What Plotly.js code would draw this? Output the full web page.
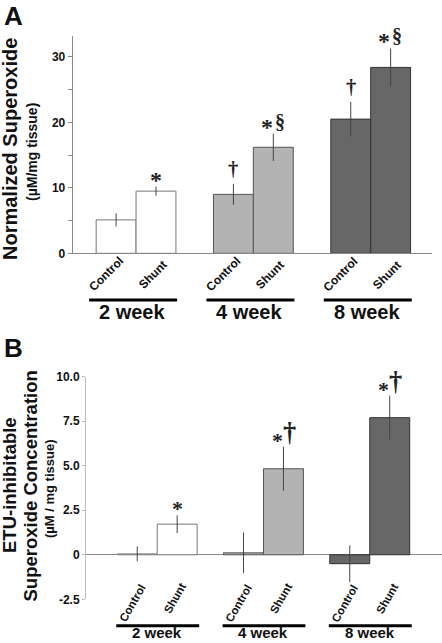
<!DOCTYPE html>
<html>
<head>
<meta charset="utf-8">
<script src="https://cdn.plot.ly/plotly-3.0.1.min.js"></script>
<style>html,body{margin:0;padding:0;background:#fff;}#chart{width:442px;height:643px;}</style>
</head>
<body>
<div id="chart"></div>
<script>
// ---- data ----
const groups = ['2 week', '4 week', '8 week'];
const subgroups = ['Control', 'Shunt'];

const aControl = [5.1, 9.0, 20.5];
const aControlErr = [1.0, 1.6, 2.65];
const aShunt = [9.5, 16.2, 28.4];
const aShuntErr = [0.7, 2.1, 2.9];
const aControlSig = ['', '†', '†'];
const aShuntSig = ['*', '*§', '*§'];
const aTickVals = [0, 10, 20, 30];
const aMinorTickVals = [5, 15, 25];

const bControl = [0.05, 0.11, -0.5];
const bControlErr = [0.42, 1.14, 1.03];
const bShunt = [1.72, 4.83, 7.7];
const bShuntErr = [0.5, 1.24, 1.24];
const bControlSig = ['', '', ''];
const bShuntSig = ['*', '*†', '*†'];
const bTickVals = [-2.5, 0, 2.5, 5, 7.5, 10];
const bTickText = ['-2.5', '0', '2.5', '5.0', '7.5', '10.0'];

// ---- styling ----
const W = 442, H = 643;
const px = x => x / W;
const py = y => 1 - y / H;
const SANS = 'Liberation Sans, Arial, sans-serif';
const SERIF = 'Liberation Serif, Times New Roman, serif';
const INK = '#111';
const fillColors = ['#ffffff', '#b3b3b3', '#676767'];
const edgeColors = ['#777777', '#555555', '#333333'];
const idx = groups.map((g, i) => i);

const panels = [
  {xa: 'x', ya: 'y', w: 0.34, ctl: aControl, ctlErr: aControlErr, sh: aShunt, shErr: aShuntErr,
   ctlSig: aControlSig, shSig: aShuntSig,
   labAngle: -45, labSize: 12, labShift: [[-10, -20.7], [-3.5, -21.7]],
   grpSize: 20, grpY: 312, grpAnchor: 'middle', grpShift: -4, lineY: 300, lineL: 0.40, lineR: 0.35,
   sym: {'*': {size: 24, dy: -8}, '†': {size: 20.5, dy: 2}, '§': {size: 20, dy: -1}}, symGap: 12.5},
  {xa: 'x2', ya: 'y2', w: 0.376, ctl: bControl, ctlErr: bControlErr, sh: bShunt, shErr: bShuntErr,
   ctlSig: bControlSig, shSig: bShuntSig,
   labAngle: -60, labSize: 11.5, labShift: [[-4.8, -48.2], [-2, -43.7]],
   grpSize: 15, grpY: 643, grpAnchor: 'bottom', grpShift: 0, lineY: 625.7, lineL: 0.385, lineR: 0.395,
   sym: {'*': {size: 22, dy: -8}, '†': {size: 26.5, dy: -2}, '§': {size: 22, dy: -1}}, symGap: 12.5}
];

const traces = [];
const annotations = [];
const shapes = [];

panels.forEach(p => {
  const series = [
    {name: subgroups[0], y: p.ctl, e: p.ctlErr, sig: p.ctlSig, off: -p.w},
    {name: subgroups[1], y: p.sh, e: p.shErr, sig: p.shSig, off: 0}
  ];
  series.forEach((s, si) => {
    traces.push({
      type: 'bar', name: s.name, x: idx, y: s.y, xaxis: p.xa, yaxis: p.ya,
      width: p.w, offset: s.off,
      marker: {color: fillColors, line: {color: edgeColors, width: 1}},
      error_y: {type: 'data', array: s.e, visible: true, width: 0, thickness: 1, color: '#444'},
      hoverinfo: 'skip', showlegend: false
    });
    idx.forEach(i => {
      const cx = i + s.off + p.w / 2;
      // rotated category label
      annotations.push({
        xref: p.xa, yref: p.ya, x: cx, y: 0, text: s.name, showarrow: false,
        textangle: p.labAngle, xanchor: 'center', yanchor: 'middle',
        xshift: p.labShift[si][0], yshift: p.labShift[si][1],
        font: {family: SANS, size: p.labSize, weight: 'bold', color: INK}
      });
      // significance symbols
      const chars = Array.from(s.sig[i]);
      chars.forEach((c, k) => {
        const st = p.sym[c];
        annotations.push({
          xref: p.xa, yref: p.ya, x: cx, y: s.y[i] + s.e[i], showarrow: false,
          text: c, xanchor: 'center', yanchor: 'bottom',
          xshift: (k - (chars.length - 1) / 2) * p.symGap, yshift: st.dy,
          font: {family: SERIF, size: st.size, weight: 'bold', color: '#222'}
        });
      });
    });
  });
  idx.forEach(i => {
    shapes.push({type: 'line', xref: p.xa, yref: 'paper', x0: i - p.lineL, x1: i + p.lineR,
      y0: py(p.lineY), y1: py(p.lineY), line: {color: '#000', width: 3}});
    annotations.push({
      xref: p.xa, yref: 'paper', x: i, y: py(p.grpY), text: groups[i], showarrow: false,
      xanchor: 'center', yanchor: p.grpAnchor, xshift: p.grpShift,
      font: {family: SANS, size: p.grpSize, weight: 'bold', color: INK}
    });
  });
});

// panel letters and axis titles
const textNotes = [
  {t: 'A', x: 13, y: 0, s: 26, a: 0, v: 'top'},
  {t: 'B', x: 13, y: 348, s: 26, a: 0, v: 'middle'},
  {t: 'Normalized Superoxide', x: 10, y: 149, s: 20, a: -90, v: 'middle'},
  {t: '(µM/mg tissue)', x: 32, y: 152, s: 14, a: -90, v: 'middle'},
  {t: 'ETU-inhibitable', x: 9, y: 485, s: 18.5, a: -90, v: 'middle'},
  {t: 'Superoxide Concentration', x: 29.5, y: 486, s: 18.5, a: -90, v: 'middle'},
  {t: '(µM / mg tissue)', x: 49, y: 489, s: 13, a: -90, v: 'middle'}
];
textNotes.forEach(n => annotations.push({
  xref: 'paper', yref: 'paper', x: px(n.x), y: py(n.y), text: n.t, showarrow: false,
  textangle: n.a, xanchor: 'center', yanchor: n.v, borderpad: 0,
  font: {family: SANS, size: n.s, weight: 'bold', color: INK}
}));

const tickFont = {family: SANS, size: 12, weight: 'bold', color: INK};
const layout = {
  width: W, height: H, margin: {l: 0, r: 0, t: 0, b: 0},
  paper_bgcolor: '#fff', plot_bgcolor: 'rgba(0,0,0,0)',
  barmode: 'overlay', showlegend: false,
  xaxis: {domain: [px(72.7), px(431.7)], range: [-0.54, 2.52], anchor: 'y',
    showline: true, linecolor: '#888', linewidth: 1, showticklabels: false, ticks: '',
    zeroline: false, showgrid: false, fixedrange: true},
  yaxis: {domain: [py(253.3), py(36)], range: [0, 33.2], anchor: 'x',
    tickvals: aTickVals, ticks: 'outside', ticklen: 4, tickcolor: '#888', tickwidth: 1,
    minor: {tickvals: aMinorTickVals, ticks: 'outside', ticklen: 4, tickcolor: '#888', showgrid: false},
    showline: true, linecolor: '#888', linewidth: 1, zeroline: false, showgrid: false,
    tickfont: tickFont, fixedrange: true},
  xaxis2: {domain: [px(86), 1], range: [-0.67, 2.68], anchor: 'y2',
    showline: false, showticklabels: false, ticks: '', zeroline: false, showgrid: false, fixedrange: true},
  yaxis2: {domain: [py(599.3), py(376.7)], range: [-2.5, 10], anchor: 'x2',
    tickvals: bTickVals, ticktext: bTickText, ticks: 'outside', ticklen: 3, tickcolor: '#bbb',
    showline: true, linecolor: '#bbb', linewidth: 1,
    zeroline: true, zerolinecolor: '#888', zerolinewidth: 1, showgrid: false,
    tickfont: tickFont, fixedrange: true},
  annotations: annotations,
  shapes: shapes
};

Plotly.newPlot('chart', traces, layout, {staticPlot: true, displayModeBar: false});
</script>
</body>
</html>
